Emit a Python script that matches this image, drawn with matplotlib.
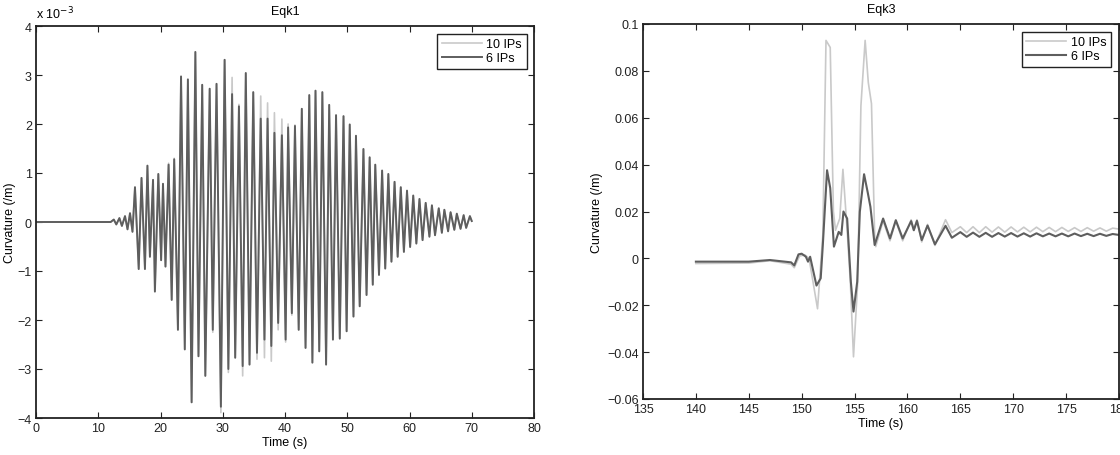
import matplotlib
matplotlib.use("Agg")
import matplotlib.pyplot as plt
from matplotlib.ticker import FuncFormatter

plt.rcParams['font.family'] = ['Liberation Sans', 'DejaVu Sans']
plt.rcParams['font.size'] = 9

# Eqk1: time of each peak / trough (s), curvature in units of 1e-3 /m
eqk1_t = [0, 12.0, 12.5, 12.9, 13.4, 13.8, 14.3, 14.7, 15.1,
          15.5, 15.9, 16.5, 16.95, 17.5, 17.9, 18.3, 18.8, 19.1, 19.65,
          20.1, 20.4, 20.8, 21.3, 21.8, 22.2, 22.8, 23.3, 23.9, 24.4,
          25.0, 25.6, 26.1, 26.7, 27.2, 27.9, 28.4, 29.0, 29.7, 30.3,
          30.9, 31.5, 32.0, 32.6, 33.2, 33.7, 34.3, 34.9, 35.5, 36.1,
          36.7, 37.2, 37.8, 38.3, 38.9, 39.5, 40.1, 40.5, 41.1, 41.6,
          42.2, 42.7, 43.3, 43.9, 44.4, 44.9, 45.5, 46.0, 46.6, 47.1,
          47.7, 48.2, 48.8, 49.4, 49.9, 50.4, 51.0, 51.4, 52.0, 52.6,
          53.1, 53.6, 54.1, 54.5, 55.1, 55.6, 56.1, 56.6, 57.1, 57.6,
          58.1, 58.6, 59.1, 59.6, 60.1, 60.6, 61.1, 61.6, 62.1, 62.6,
          63.2, 63.6, 64.1, 64.7, 65.2, 65.6, 66.2, 66.6, 67.2, 67.6,
          68.2, 68.7, 69.1, 69.7, 70.0]
eqk1_6ip = [0, 0, 0.05, -0.05, 0.08, -0.08, 0.12, -0.15, 0.18,
            -0.20, 0.71, -0.96, 0.90, -0.96, 1.15, -0.71, 0.86, -1.42, 0.98,
            -0.78, 0.78, -0.91, 1.17, -1.59, 1.28, -2.20, 2.97, -2.60, 2.91,
            -3.68, 3.47, -2.74, 2.80, -3.14, 2.72, -2.20, 2.82, -3.77, 3.31,
            -3.00, 2.61, -2.77, 2.36, -2.94, 3.04, -2.91, 2.65, -2.67, 2.11,
            -2.40, 2.11, -2.53, 1.82, -2.06, 1.77, -2.40, 1.93, -1.86, 1.96,
            -2.20, 2.31, -2.57, 2.59, -2.87, 2.68, -2.64, 2.65, -2.91, 2.39,
            -2.40, 2.18, -2.38, 2.16, -2.23, 1.99, -1.93, 1.76, -1.72, 1.49,
            -1.49, 1.32, -1.28, 1.17, -1.08, 1.05, -0.95, 0.98, -0.81, 0.82,
            -0.71, 0.71, -0.61, 0.64, -0.51, 0.54, -0.44, 0.47, -0.37, 0.39,
            -0.30, 0.34, -0.27, 0.28, -0.22, 0.25, -0.19, 0.20, -0.16, 0.17,
            -0.14, 0.14, -0.12, 0.12, 0.02]
eqk1_10ip = [0, 0, 0.05, -0.05, 0.08, -0.08, 0.12, -0.15, 0.18,
             -0.20, 0.71, -0.96, 0.90, -0.96, 1.15, -0.71, 0.86, -1.42, 0.98,
             -0.78, 0.78, -0.91, 1.20, -1.59, 1.30, -2.20, 2.97, -2.60, 2.91,
             -3.68, 3.47, -2.74, 2.80, -3.14, 2.72, -2.25, 2.82, -3.89, 3.31,
             -3.07, 2.95, -2.77, 2.40, -3.14, 3.04, -2.91, 2.65, -2.80, 2.57,
             -2.77, 2.43, -2.84, 2.23, -2.20, 2.10, -2.45, 2.00, -1.90, 1.98,
             -2.20, 2.31, -2.57, 2.59, -2.87, 2.68, -2.64, 2.65, -2.91, 2.39,
             -2.40, 2.18, -2.38, 2.16, -2.23, 1.99, -1.93, 1.76, -1.72, 1.49,
             -1.49, 1.32, -1.28, 1.17, -1.08, 1.05, -0.95, 0.98, -0.81, 0.82,
             -0.71, 0.71, -0.61, 0.64, -0.51, 0.54, -0.44, 0.47, -0.37, 0.39,
             -0.30, 0.34, -0.27, 0.28, -0.22, 0.25, -0.19, 0.20, -0.16, 0.17,
             -0.14, 0.14, -0.12, 0.12, 0.02]

# Eqk3: curvature (/m)
eqk3_t6 = [140, 145, 147, 149, 149.3, 149.7, 150.0, 150.4, 150.6, 150.8,
           151.4, 151.8, 152.0, 152.4, 152.7, 153.05, 153.5, 153.75, 153.95,
           154.3, 154.65, 154.9, 155.25, 155.5, 155.9, 156.25, 156.5, 156.9,
           157.7, 158.35, 158.9, 159.55, 160.35, 160.6, 160.9, 161.35, 161.9,
           162.6, 163.6, 164.2, 165.0, 165.6, 166.2, 166.8, 167.4, 168.0,
           168.6, 169.2, 169.8, 170.4, 171.0, 171.6, 172.2, 172.8, 173.4,
           174.0, 174.6, 175.2, 175.8, 176.4, 177.0, 177.6, 178.2, 178.8,
           179.4, 180]
eqk3_6ip = [-0.0014, -0.0014, -0.0007, -0.0017, -0.003, 0.0017, 0.002, 0.0007,
            -0.0014, 0.0007, -0.0116, -0.0085, 0.0057, 0.0376, 0.030, 0.005,
            0.0113, 0.010, 0.020, 0.017, -0.010, -0.0227, -0.010, 0.0199,
            0.0359, 0.028, 0.022, 0.0057, 0.017, 0.0085, 0.0163, 0.0085,
            0.0159, 0.012, 0.016, 0.0078, 0.014, 0.006, 0.0139, 0.0088,
            0.0112, 0.0092, 0.0110, 0.0092, 0.0109, 0.0092, 0.0108, 0.0093,
            0.0108, 0.0093, 0.0107, 0.0093, 0.0107, 0.0094, 0.0106, 0.0094,
            0.0106, 0.0094, 0.0106, 0.0095, 0.0105, 0.0095, 0.0105, 0.0096,
            0.0104, 0.0100]
eqk3_t10 = [140, 145, 147, 149, 149.3, 149.8, 150.3, 150.7, 151.5, 152.0,
            152.3, 152.7, 153.0, 153.2, 153.6, 153.9, 154.3, 154.6, 154.9,
            155.3, 155.6, 156.0, 156.3, 156.6, 156.9, 157.0, 157.7, 158.35,
            158.9, 159.55, 160.35, 160.6, 160.9, 161.35, 161.9, 162.6, 163.6,
            164.2, 165.0, 165.6, 166.2, 166.8, 167.4, 168.0, 168.6, 169.2,
            169.8, 170.4, 171.0, 171.6, 172.2, 172.8, 173.4, 174.0, 174.6,
            175.2, 175.8, 176.4, 177.0, 177.6, 178.2, 178.8, 179.4, 180]
eqk3_10ip = [-0.0022, -0.002, -0.001, -0.0025, -0.004, 0.001, 0.0015, 0.0,
             -0.0215, 0.010, 0.093, 0.090, 0.020, 0.012, 0.017, 0.038, 0.012,
             -0.010, -0.042, -0.010, 0.065, 0.093, 0.075, 0.066, 0.010, 0.005,
             0.016, 0.0075, 0.016, 0.0075, 0.0165, 0.012, 0.0165, 0.007,
             0.0145, 0.0055, 0.0165, 0.011, 0.0135, 0.0110, 0.0135, 0.0110,
             0.0135, 0.0112, 0.0134, 0.0112, 0.0134, 0.0113, 0.0133, 0.0113,
             0.0133, 0.0114, 0.0132, 0.0114, 0.0132, 0.0115, 0.0131, 0.0115,
             0.0131, 0.0116, 0.0130, 0.0116, 0.0129, 0.0125]

light = '#c9c9c9'
dark = '#5e5e5e'


def matlab_fmt(v, pos):
    return ('%g' % round(v, 6)).replace('-', '\u2212')


def style_axes(ax):
    for s in ax.spines.values():
        s.set_linewidth(1.3)
        s.set_color('#222222')
    ax.tick_params(direction='in', length=4, width=0.8, top=True, right=True,
                   colors='#222222', pad=3, labelsize=9)
    ax.yaxis.set_major_formatter(FuncFormatter(matlab_fmt))
    ax.xaxis.set_major_formatter(FuncFormatter(matlab_fmt))


def add_legend(ax):
    leg = ax.legend(loc='upper right', fancybox=False, edgecolor='#222222',
                    framealpha=1, borderaxespad=0.6, handlelength=3.2,
                    borderpad=0.35, labelspacing=0.2, handletextpad=0.4,
                    fontsize=9)
    leg.get_frame().set_linewidth(1.0)


fig = plt.figure(figsize=(11.2, 4.56), dpi=100)

ax1 = fig.add_axes([36 / 1120, 1 - 419 / 456, 498 / 1120, 392 / 456])
ax1.plot(eqk1_t, eqk1_10ip, color=light, lw=1.2, label='10 IPs')
ax1.plot(eqk1_t, eqk1_6ip, color=dark, lw=1.4, label='6 IPs')
ax1.set_xlim(0, 80)
ax1.set_ylim(-4, 4)
ax1.set_xticks(range(0, 81, 10))
ax1.set_yticks(range(-4, 5))
style_axes(ax1)
ax1.set_title('Eqk1', fontsize=9, pad=9)
ax1.set_xlabel('Time (s)', labelpad=1)
ax1.set_ylabel('Curvature (/m)', labelpad=1)
ax1.text(0.0, 1.012, 'x 10$^{-3}$', transform=ax1.transAxes, fontsize=9,
         ha='left', va='bottom')
add_legend(ax1)

ax2 = fig.add_axes([643 / 1120, 1 - 400 / 456, 476 / 1120, 375 / 456])
ax2.plot(eqk3_t10, eqk3_10ip, color=light, lw=1.2, label='10 IPs')
ax2.plot(eqk3_t6, eqk3_6ip, color=dark, lw=1.5, label='6 IPs')
ax2.set_xlim(135, 180)
ax2.set_ylim(-0.06, 0.1)
ax2.set_xticks(range(135, 181, 5))
ax2.set_yticks([-0.06, -0.04, -0.02, 0, 0.02, 0.04, 0.06, 0.08, 0.1])
style_axes(ax2)
ax2.set_title('Eqk3', fontsize=9, pad=9)
ax2.set_xlabel('Time (s)', labelpad=1)
ax2.set_ylabel('Curvature (/m)', labelpad=3)
add_legend(ax2)

fig.savefig('out.png', dpi=100)
